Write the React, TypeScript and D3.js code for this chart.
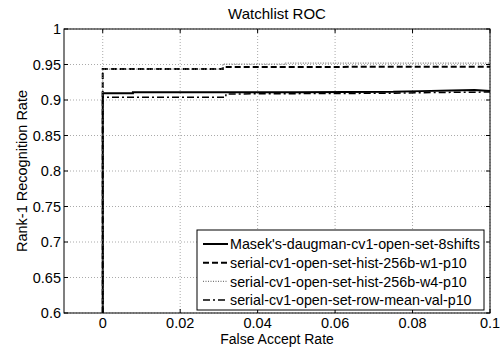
import React from 'react';
import * as d3 from 'd3';

const xTicks = [0, 0.02, 0.04, 0.06, 0.08, 0.1];
const yTicks = [0.6, 0.65, 0.7, 0.75, 0.8, 0.85, 0.9, 0.95, 1];

// [false accept rate, rank-1 rate]
const masek: [number, number][] = [
  [0, 0.6], [0, 0.9095], [0.0078, 0.9095], [0.0078, 0.911], [0.05, 0.911],
  [0.075, 0.9115], [0.082, 0.9125], [0.09, 0.9135], [0.096, 0.914], [0.1, 0.9125],
];
const histW1: [number, number][] = [
  [0, 0.6], [0, 0.9435], [0.031, 0.9435], [0.031, 0.9465], [0.04, 0.9465],
  [0.045, 0.9465], [0.1, 0.947],
];
const histW4: [number, number][] = [
  [0, 0.6], [0, 0.9435], [0.031, 0.9435], [0.031, 0.9505], [0.047, 0.9505],
  [0.047, 0.952], [0.1, 0.952],
];
const rowMean: [number, number][] = [
  [0, 0.6], [0, 0.9038], [0.0318, 0.9038], [0.0318, 0.9085], [0.06, 0.9092],
  [0.075, 0.9095], [0.085, 0.9105], [0.095, 0.911], [0.1, 0.9112],
];

const series = [
  { name: "Masek's-daugman-cv1-open-set-8shifts", data: masek, color: '#000', width: 2, dash: '' },
  { name: 'serial-cv1-open-set-hist-256b-w1-p10', data: histW1, color: '#000', width: 2, dash: '6,3' },
  { name: 'serial-cv1-open-set-hist-256b-w4-p10', data: histW4, color: '#777', width: 1.2, dash: '1,1.5' },
  { name: 'serial-cv1-open-set-row-mean-val-p10', data: rowMean, color: '#000', width: 1.5, dash: '7,3,2,3' },
];

const W = 504, H = 351;
const m = { left: 64, right: 14, top: 29, bottom: 38 };

export default function App() {
  const x = d3.scaleLinear().domain([-0.01, 0.1]).range([m.left, W - m.right]);
  const y = d3.scaleLinear().domain([0.6, 1]).range([H - m.bottom, m.top]);
  const line = d3.line<[number, number]>().x(d => x(d[0])).y(d => y(d[1]));
  const x0 = m.left, x1 = W - m.right, y0 = H - m.bottom, y1 = m.top;
  const font = 'Liberation Sans, Arial, sans-serif';
  const fs = 14.5;
  const lg = { x: 197, y: 230, w: 287, h: 80 };

  return (
    <svg width={W} height={H} style={{ position: 'absolute', left: 0, top: 0 }} fontFamily={font}>
      <rect width={W} height={H} fill="#fff" />
      <defs>
        <clipPath id="plot"><rect x={x0} y={y1} width={x1 - x0} height={y0 - y1} /></clipPath>
      </defs>
      {/* grid */}
      {xTicks.map(t => (
        <line key={'gx' + t} x1={x(t)} x2={x(t)} y1={y0} y2={y1} stroke="#aaa" strokeDasharray="1,2" />
      ))}
      {yTicks.map(t => (
        <line key={'gy' + t} x1={x0} x2={x1} y1={y(t)} y2={y(t)} stroke="#aaa" strokeDasharray="1,2" />
      ))}
      {/* series */}
      <g clipPath="url(#plot)">
        {series.map(s => (
          <path key={s.name} d={line(s.data) || ''} fill="none" stroke={s.color}
            strokeWidth={s.width} strokeDasharray={s.dash} />
        ))}
      </g>
      {/* box and ticks */}
      <rect x={x0} y={y1} width={x1 - x0} height={y0 - y1} fill="none" stroke="#000" strokeWidth={1} />
      {xTicks.map(t => (
        <g key={'tx' + t}>
          <line x1={x(t)} x2={x(t)} y1={y0} y2={y0 - 4} stroke="#000" />
          <line x1={x(t)} x2={x(t)} y1={y1} y2={y1 + 4} stroke="#000" />
          <text x={x(t)} y={y0 + 15} fontSize={fs} textAnchor="middle">{d3.format('')(t)}</text>
        </g>
      ))}
      {yTicks.map(t => (
        <g key={'ty' + t}>
          <line x1={x0} x2={x0 + 4} y1={y(t)} y2={y(t)} stroke="#000" />
          <line x1={x1} x2={x1 - 4} y1={y(t)} y2={y(t)} stroke="#000" />
          <text x={x0 - 3} y={y(t)} dy="0.36em" fontSize={fs} textAnchor="end">{d3.format('')(t)}</text>
        </g>
      ))}
      <text x={(x0 + x1) / 2} y={19} fontSize={15} textAnchor="middle">Watchlist ROC</text>
      <text x={(x0 + x1) / 2} y={344} fontSize={14} textAnchor="middle">False Accept Rate</text>
      <text transform={`translate(27,${(y0 + y1) / 2}) rotate(-90)`} fontSize={fs} textAnchor="middle">
        Rank-1 Recognition Rate
      </text>
      {/* legend */}
      <rect x={lg.x} y={lg.y} width={lg.w} height={lg.h} fill="#fff" stroke="#000" />
      {series.map((s, i) => {
        const ly = lg.y + 14 + i * 18.7;
        return (
          <g key={'lg' + i}>
            <line x1={lg.x + 6} x2={lg.x + 31} y1={ly} y2={ly} stroke={s.color}
              strokeWidth={s.width} strokeDasharray={s.dash} />
            <text x={lg.x + 33} y={ly} dy="0.36em" fontSize={14.3}>{s.name}</text>
          </g>
        );
      })}
    </svg>
  );
}
